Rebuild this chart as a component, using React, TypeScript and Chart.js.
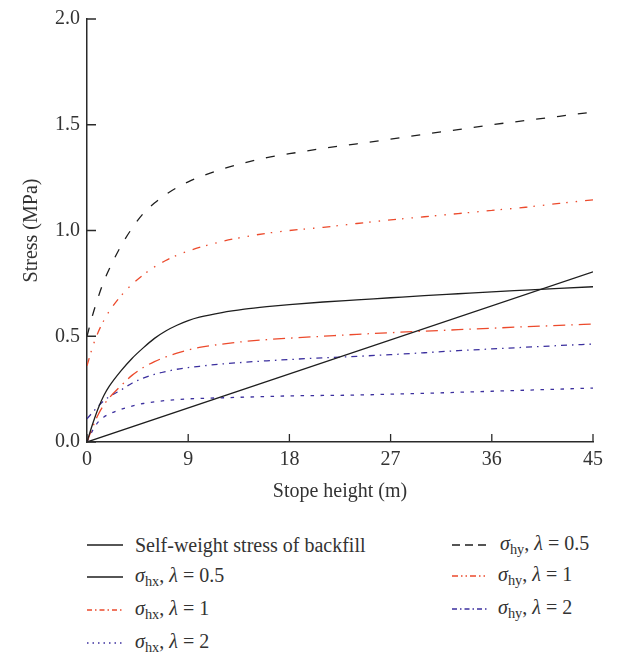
import React, { useEffect, useRef } from "react";
import { Chart, registerables } from "chart.js";

Chart.register(...registerables);

// Stope height (m)
const HEIGHTS = [0, 0.5, 1, 1.5, 2, 3, 4, 5, 6, 7, 8, 9, 10, 12, 14, 16, 18, 21, 24, 27, 30, 33, 36, 39, 42, 45];

const SELF_WEIGHT_X = [0, 45];
const SELF_WEIGHT_Y = [0, 0.805];

const HX_L05 = [0, 0.085, 0.16, 0.22, 0.265, 0.335, 0.395, 0.445, 0.49, 0.525, 0.552, 0.574, 0.59, 0.612, 0.628, 0.64, 0.65, 0.662, 0.672, 0.682, 0.692, 0.701, 0.71, 0.718, 0.726, 0.734];
const HX_L1 = [0, 0.07, 0.13, 0.175, 0.21, 0.265, 0.315, 0.352, 0.38, 0.402, 0.42, 0.435, 0.447, 0.463, 0.475, 0.484, 0.491, 0.5, 0.509, 0.517, 0.524, 0.531, 0.538, 0.545, 0.551, 0.558];
const HX_L2 = [0, 0.055, 0.095, 0.118, 0.133, 0.154, 0.17, 0.182, 0.19, 0.196, 0.2, 0.204, 0.206, 0.209, 0.212, 0.215, 0.218, 0.22, 0.222, 0.226, 0.23, 0.235, 0.24, 0.245, 0.25, 0.255];
const HY_L05 = [0.5, 0.6, 0.685, 0.76, 0.82, 0.925, 1.01, 1.08, 1.13, 1.17, 1.203, 1.23, 1.253, 1.29, 1.32, 1.345, 1.363, 1.388, 1.41, 1.432, 1.455, 1.477, 1.5, 1.52, 1.54, 1.56];
const HY_L1 = [0.36, 0.45, 0.52, 0.575, 0.62, 0.69, 0.745, 0.79, 0.828, 0.858, 0.883, 0.903, 0.92, 0.948, 0.97, 0.987, 1.0, 1.015, 1.033, 1.05, 1.065, 1.08, 1.095, 1.11, 1.128, 1.145];
const HY_L2 = [0.11, 0.14, 0.17, 0.195, 0.215, 0.245, 0.278, 0.302, 0.32, 0.333, 0.344, 0.352, 0.358, 0.369, 0.377, 0.384, 0.39, 0.398, 0.405, 0.413, 0.422, 0.432, 0.44, 0.448, 0.456, 0.463];

const X_TICKS = [0, 9, 18, 27, 36, 45];
const Y_TICKS = [0, 0.5, 1.0, 1.5, 2.0];

const BLACK = "#1e1e1e";
const RED = "#ec4a2c";
const BLUE = "#3b2f9e";

const FONT = "'Liberation Serif', 'Times New Roman', serif";

type Series = {
  label: React.ReactNode;
  key: string;
  xs: number[];
  ys: number[];
  color: string;
  dash: number[];
  legendDash: number[];
};

const sig = (sub: string, lam: string) => (
  <span>
    <i>σ</i>
    <sub style={{ fontSize: "0.72em", verticalAlign: "-0.3em" }}>{sub}</sub>, <i>λ</i> = {lam}
  </span>
);

const SERIES: Series[] = [
  { key: "sw", label: <span>Self-weight stress of backfill</span>, xs: SELF_WEIGHT_X, ys: SELF_WEIGHT_Y, color: BLACK, dash: [], legendDash: [] },
  { key: "hx05", label: sig("hx", "0.5"), xs: HEIGHTS, ys: HX_L05, color: BLACK, dash: [], legendDash: [] },
  { key: "hx1", label: sig("hx", "1"), xs: HEIGHTS, ys: HX_L1, color: RED, dash: [12, 6, 1.5, 6], legendDash: [5, 3, 1.5, 3] },
  { key: "hx2", label: sig("hx", "2"), xs: HEIGHTS, ys: HX_L2, color: BLUE, dash: [3.5, 6.5], legendDash: [1.5, 4] },
  { key: "hy05", label: sig("hy", "0.5"), xs: HEIGHTS, ys: HY_L05, color: BLACK, dash: [9, 12], legendDash: [8, 5] },
  { key: "hy1", label: sig("hy", "1"), xs: HEIGHTS, ys: HY_L1, color: RED, dash: [8, 6, 1.5, 8, 1.5, 8], legendDash: [6, 3, 1.5, 3, 1.5, 3] },
  { key: "hy2", label: sig("hy", "2"), xs: HEIGHTS, ys: HY_L2, color: BLUE, dash: [6, 5, 1.5, 5], legendDash: [5, 3, 1.5, 3] },
];

const inwardTicks = {
  id: "inwardTicks",
  afterDatasetsDraw(chart: any) {
    const ctx = chart.ctx;
    const x = chart.scales.x;
    const y = chart.scales.y;
    const area = chart.chartArea;
    ctx.save();
    ctx.strokeStyle = "#2a2a2a";
    ctx.lineWidth = 1.3;
    ctx.beginPath();
    X_TICKS.forEach((t) => {
      const px = x.getPixelForValue(t);
      ctx.moveTo(px, area.bottom);
      ctx.lineTo(px, area.bottom - 8);
    });
    Y_TICKS.forEach((t) => {
      const py = y.getPixelForValue(t);
      ctx.moveTo(area.left, py);
      ctx.lineTo(area.left + 9, py);
    });
    ctx.stroke();
    ctx.restore();
  },
};

function LegendSample({ color, dash }: { color: string; dash: number[] }) {
  return (
    <svg width={36} height={6} style={{ display: "block", flex: "none" }}>
      <line x1={0} y1={3} x2={36} y2={3} stroke={color} strokeWidth={1.3} strokeDasharray={dash.length ? dash.join(" ") : undefined} />
    </svg>
  );
}

export default function App() {
  const ref = useRef<HTMLCanvasElement | null>(null);

  useEffect(() => {
    if (!ref.current) return;
    const chart = new Chart(ref.current, {
      type: "scatter",
      data: {
        datasets: SERIES.map((s) => ({
          label: s.key,
          data: s.xs.map((xv, i) => ({ x: xv, y: s.ys[i] })),
          showLine: true,
          borderColor: s.color,
          backgroundColor: s.color,
          borderWidth: 1.3,
          borderDash: s.dash,
          pointRadius: 0,
          cubicInterpolationMode: "monotone" as const,
        })),
      },
      options: {
        animation: false,
        responsive: false,
        layout: { padding: { top: 19, right: 26, left: 0, bottom: 0 } },
        plugins: { legend: { display: false }, tooltip: { enabled: false } },
        scales: {
          x: {
            type: "linear",
            min: 0,
            max: 45,
            afterBuildTicks: (scale: any) => {
              scale.ticks = X_TICKS.map((v) => ({ value: v }));
            },
            afterFit: (scale: any) => {
              scale.height = 63;
            },
            ticks: { color: "#333", font: { family: FONT, size: 20 }, padding: 6 },
            grid: { drawOnChartArea: false, drawTicks: false },
            border: { color: "#2a2a2a", width: 1.5 },
            title: { display: true, text: "Stope height (m)", color: "#333", font: { family: FONT, size: 20 }, padding: { top: 0, bottom: 1 } },
          },
          y: {
            type: "linear",
            min: 0,
            max: 2,
            afterBuildTicks: (scale: any) => {
              scale.ticks = Y_TICKS.map((v) => ({ value: v }));
            },
            afterFit: (scale: any) => {
              scale.width = 87;
            },
            ticks: { color: "#333", font: { family: FONT, size: 20 }, padding: 7, callback: (v: any) => Number(v).toFixed(1) },
            grid: { drawOnChartArea: false, drawTicks: false },
            border: { color: "#2a2a2a", width: 1.5 },
            title: { display: true, text: "Stress (MPa)", color: "#333", font: { family: FONT, size: 20 }, padding: { top: 20, bottom: 0 } },
          },
        },
      },
      plugins: [inwardTicks],
    });
    return () => chart.destroy();
  }, []);

  const left = SERIES.slice(0, 4);
  const right = SERIES.slice(4);
  const leftRows = [545, 577, 610, 643];
  const rightRows = [545, 576, 609];

  return (
    <div style={{ position: "absolute", left: 0, top: 0, width: 619, height: 654, background: "#fff", fontFamily: FONT, color: "#333" }}>
      <canvas ref={ref} width={619} height={505} style={{ position: "absolute", left: 0, top: 0 }} />
      {left.map((s, i) => (
        <div key={s.key} style={{ position: "absolute", left: 87, top: leftRows[i] - 13, height: 26, display: "flex", alignItems: "center", fontSize: 20, whiteSpace: "nowrap" }}>
          <LegendSample color={s.color} dash={s.legendDash} />
          <span style={{ marginLeft: 12 }}>{s.label}</span>
        </div>
      ))}
      {right.map((s, i) => (
        <div key={s.key} style={{ position: "absolute", left: 452, top: rightRows[i] - 13, height: 26, display: "flex", alignItems: "center", fontSize: 20, whiteSpace: "nowrap" }}>
          <LegendSample color={s.color} dash={s.legendDash} />
          <span style={{ marginLeft: i === 0 ? 12 : 10 }}>{s.label}</span>
        </div>
      ))}
    </div>
  );
}
